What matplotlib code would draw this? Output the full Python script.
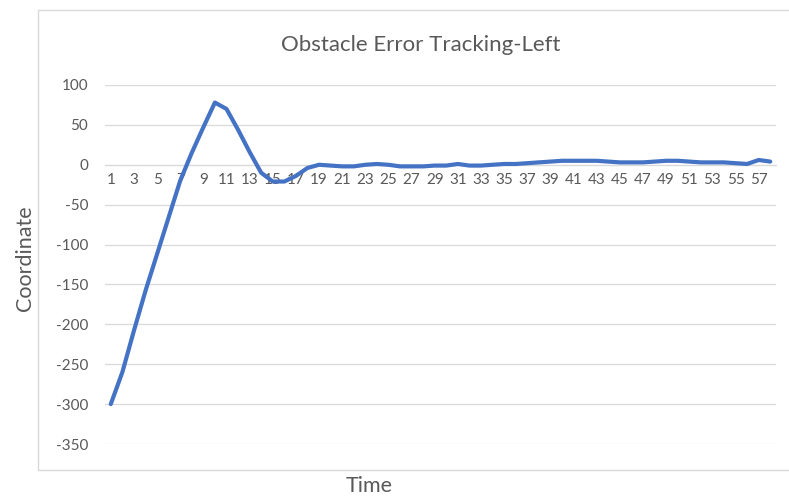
import matplotlib.pyplot as plt
from matplotlib.patches import Rectangle

plt.rcParams['font.family'] = ['Lato', 'DejaVu Sans']
plt.rcParams['axes.unicode_minus'] = False

# data
time = list(range(1, 59))
coord = [-300, -260, -208, -158, -112, -66, -20, 15, 47, 78,
         70, 44, 16, -10, -21, -21, -14, -4, 0, -1,
         -2, -2, 0, 1, 0, -2, -2, -2, -1, -1,
         1, -1, -1, 0, 1, 1, 2, 3, 4, 5,
         5, 5, 5, 4, 3, 3, 3, 4, 5, 5,
         4, 3, 3, 3, 2, 1, 6, 4]
yticks = [100, 50, 0, -50, -100, -150, -200, -250, -300, -350]
xticklabels = [str(t) for t in time[::2]]

grey = '#595959'
grid = '#D9D9D9'

fig = plt.figure(figsize=(7.89, 4.97), dpi=100)
# chart area border
fig.patches.append(Rectangle((38 / 789, 1 - 470 / 497), 1.0, (470 - 10) / 497,
                             transform=fig.transFigure, fill=False,
                             edgecolor='#D9D9D9', linewidth=1))

ax = fig.add_axes([105 / 789, 1 - 444 / 497, 671 / 789, (444 - 85) / 497])
ax.plot(time, coord, color='#4472C4', linewidth=3.0, solid_capstyle='round',
        solid_joinstyle='round')

ax.set_xlim(0.5, 58.5)
ax.set_ylim(-350, 100)
ax.set_yticks(yticks)
ax.set_xticks(time[::2])
ax.set_xticklabels(xticklabels)
ax.grid(axis='y', color=grid, linewidth=0.9)
ax.set_axisbelow(True)

for s in ['top', 'right', 'left']:
    ax.spines[s].set_visible(False)
ax.spines['bottom'].set_position(('data', 0))
ax.spines['bottom'].set_color(grid)
ax.spines['bottom'].set_zorder(0)
ax.tick_params(axis='both', length=0, labelsize=11, labelcolor=grey)
ax.tick_params(axis='x', pad=6)
ax.tick_params(axis='y', pad=12)

fig.text(421 / 789, 1 - 45 / 497, 'Obstacle Error Tracking-Left', ha='center', va='center',
         fontsize=16, color=grey)
fig.text(25 / 789, 1 - 258 / 497, 'Coordinate', ha='center', va='center', rotation=90,
         fontsize=15.5, color=grey)
fig.text(369 / 789, 1 - 486 / 497, 'Time', ha='center', va='center',
         fontsize=15.5, color=grey)

fig.savefig('out.png', dpi=100)
